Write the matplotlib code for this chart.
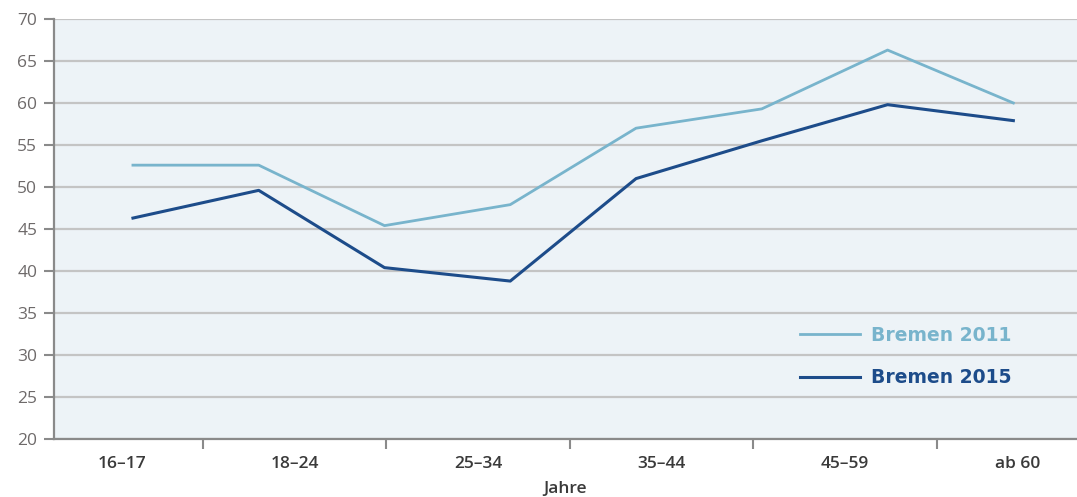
import numpy as np
import matplotlib
matplotlib.use("Agg")
import matplotlib.pyplot as plt

plt.rcParams['font.family'] = ['Open Sans', 'DejaVu Sans']

# Anteil in % je Messpunkt
bremen_2011 = [52.6, 52.6, 45.4, 47.9, 57.0, 59.3, 66.3, 60.0]
bremen_2015 = [46.3, 49.6, 40.4, 38.8, 51.0, 55.5, 59.8, 57.9]
series_names = ["Bremen 2011", "Bremen 2015"]
age_groups = ["16–17", "18–24", "25–34", "35–44", "45–59", "ab 60"]
y_ticks = list(range(20, 75, 5))

c_light = "#78b4cc"
c_dark = "#1d4c8a"
c_bg = "#edf3f7"
c_grid = "#c4c4c4"
c_axis = "#8a8a8a"

fig = plt.figure(figsize=(10.77, 4.97), dpi=100)
ax = fig.add_axes([0.0501, 0.1167, 0.9499, 0.8451])
ax.set_facecolor(c_bg)

x = np.arange(len(bremen_2011))
ax.plot(x, bremen_2011, color=c_light, lw=2.0, label=series_names[0], zorder=3)
ax.plot(x, bremen_2015, color=c_dark, lw=2.2, label=series_names[1], zorder=3)

ax.set_xlim(-0.628, 7.506)
ax.set_ylim(20, 70)
ax.set_yticks(y_ticks)
ax.yaxis.grid(True, color=c_grid, lw=1.6)
ax.set_axisbelow(True)
ax.tick_params(axis='y', length=7, width=1.5, color=c_axis, labelsize=12.5,
               labelcolor="#6e6a6a", pad=5)
ax.set_xticks([])

for side in ("top", "right"):
    ax.spines[side].set_visible(False)
for side in ("left", "bottom"):
    ax.spines[side].set_color(c_axis)
    ax.spines[side].set_linewidth(1.6)

# Altersgruppen auf eigener Kategorieachse
cat = ax.twiny()
cat.set_xlim(-0.312, 5.264)
cat.xaxis.set_ticks_position("bottom")
cat.xaxis.set_label_position("bottom")
for side in cat.spines:
    cat.spines[side].set_visible(False)
bounds = np.arange(len(age_groups) - 1) + 0.5
cat.set_xticks(bounds)
cat.set_xticklabels([])
cat.tick_params(axis='x', which='major', length=7, width=1.5, color=c_axis)
label_pos = [0.06, 1, 2, 3, 4, 4.94]
cat.set_xticks(label_pos, minor=True)
cat.set_xticklabels(age_groups, minor=True, fontsize=12.5, fontweight="semibold",
                    color="#3a3a3a")
cat.tick_params(axis='x', which='minor', length=0, pad=12)
cat.set_xlabel("Jahre", fontsize=12.5, fontweight="semibold", color="#3a3a3a",
               labelpad=7)

leg = ax.legend(loc="upper left", bbox_to_anchor=(0.713, 0.31), frameon=False,
                handlelength=3.2, handletextpad=0.55, labelspacing=1.25,
                prop={"family": "DejaVu Sans", "size": 13.5, "weight": "bold"})
for txt, line in zip(leg.get_texts(), leg.get_lines()):
    txt.set_color(line.get_color())

fig.savefig("out.png", dpi=100)
